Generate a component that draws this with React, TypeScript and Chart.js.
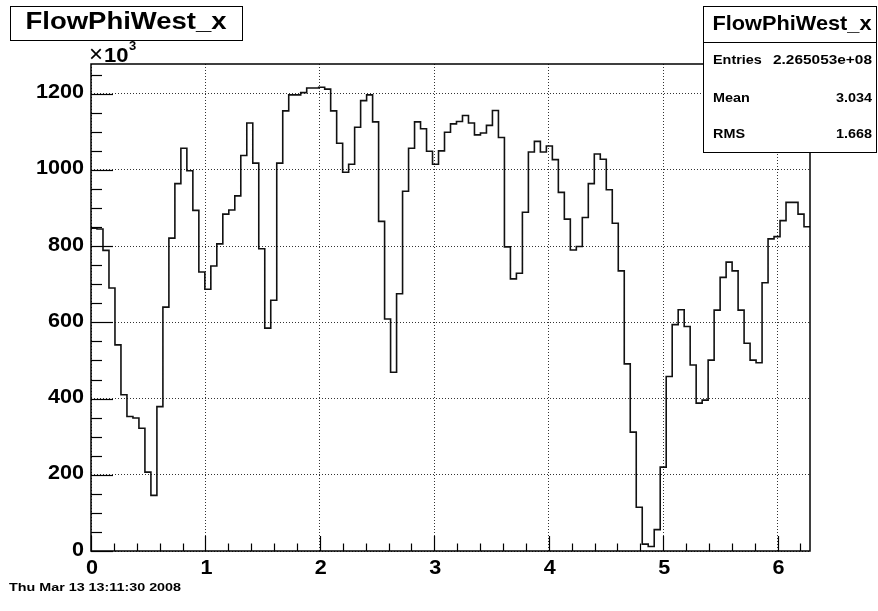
import React, { useEffect, useRef } from 'react';
import { Chart, registerables } from 'chart.js';

Chart.register(...registerables);

// ---------- data ----------
const histTitle = 'FlowPhiWest_x';
const xMin = 0;
const xMax = 2 * Math.PI;
const yMax = 1278; // in units of 10^3
const nBins = 120;

// bin contents (x10^3), 120 bins over [0, 2pi]
const binValues = [
  847, 845, 789, 690, 541, 410, 353, 349, 322, 207, 146, 379, 640, 821, 964, 1057, 998, 894, 732, 687,
  748, 806, 884, 895, 932, 1038, 1123, 1018, 793, 585, 658, 1018, 1155, 1197, 1197, 1203, 1215, 1215, 1217, 1212,
  1155, 1070, 994, 1015, 1112, 1182, 1197, 1126, 865, 609, 469, 675, 944, 1057, 1126, 1108, 1049, 1015, 1050, 1099,
  1121, 1127, 1143, 1123, 1092, 1097, 1117, 1156, 1085, 798, 714, 729, 889, 1047, 1075, 1047, 1063, 1027, 941, 871,
  790, 799, 875, 964, 1042, 1028, 948, 860, 735, 491, 312, 115, 18, 12, 56, 220, 458, 594, 633, 589,
  488, 388, 396, 501, 632, 718, 758, 735, 632, 545, 501, 494, 704, 819, 825, 867, 915, 915, 884, 851,
];

const xTickValues = [0, 1, 2, 3, 4, 5, 6];
const xTickLabels = ['0', '1', '2', '3', '4', '5', '6'];
const yTickValues = [0, 200, 400, 600, 800, 1000, 1200];
const yTickLabels = ['0', '200', '400', '600', '800', '1000', '1200'];

const statLabels = ['Entries', 'Mean', 'RMS'];
const statValues = ['2.265053e+08', '3.034', '1.668'];
const dateText = 'Thu Mar 13 13:11:30 2008';

// ---------- helpers ----------
const FONT = '"Liberation Sans", Arial, Helvetica, sans-serif';

function drawText(
  ctx: CanvasRenderingContext2D,
  s: string,
  x: number,
  y: number,
  o: { size: number; bold?: boolean; align?: 'left' | 'right' | 'center'; sx?: number; width?: number; baseline?: CanvasTextBaseline }
) {
  const bold = o.bold !== false;
  ctx.save();
  ctx.font = `${bold ? 'bold ' : ''}${o.size}px ${FONT}`;
  ctx.textBaseline = o.baseline || 'middle';
  ctx.textAlign = 'left';
  const w = ctx.measureText(s).width;
  const scale = o.width ? o.width / w : o.sx || 1;
  const dw = w * scale;
  const align = o.align || 'left';
  const x0 = align === 'left' ? x : align === 'right' ? x - dw : x - dw / 2;
  ctx.translate(x0, y);
  ctx.scale(scale, 1);
  ctx.fillStyle = '#000';
  ctx.fillText(s, 0, 0);
  ctx.restore();
}

const rootPlugin = {
  id: 'rootDecor',
  afterDraw(chart: any) {
    const ctx: CanvasRenderingContext2D = chart.ctx;
    const { left, top, right, bottom } = chart.chartArea;
    const xs = chart.scales.x;
    const ys = chart.scales.y;
    ctx.save();
    ctx.strokeStyle = '#000';
    ctx.lineWidth = 1.5;
    ctx.setLineDash([]);
    // frame
    ctx.strokeRect(left, top, right - left, bottom - top);

    // y ticks (inside)
    ctx.lineWidth = 1.2;
    for (let k = 0; k * 50 <= yMax; k++) {
      const v = k * 50;
      const py = Math.round(ys.getPixelForValue(v)) + 0.5;
      const len = k % 4 === 0 ? 22 : 11;
      ctx.beginPath();
      ctx.moveTo(left, py);
      ctx.lineTo(left + len, py);
      ctx.stroke();
    }
    // x ticks (inside)
    for (let k = 0; k * 0.2 <= xMax; k++) {
      const v = k * 0.2;
      const px = Math.round(xs.getPixelForValue(v)) + 0.5;
      const len = k % 5 === 0 ? 15 : 7.5;
      ctx.beginPath();
      ctx.moveTo(px, bottom);
      ctx.lineTo(px, bottom - len);
      ctx.stroke();
    }

    // tick labels
    yTickValues.forEach((v, i) => {
      const py = ys.getPixelForValue(v);
      drawText(ctx, yTickLabels[i], left - 7, py - 1, { size: 20, align: 'right', sx: 1.08 });
    });
    xTickValues.forEach((v, i) => {
      const px = xs.getPixelForValue(v);
      drawText(ctx, xTickLabels[i], px + 1, bottom + 17, { size: 20, align: 'center', sx: 1.08 });
    });

    // x10^3
    drawText(ctx, '\u00d7', left - 2, 62, { size: 24, bold: false, baseline: 'alphabetic' });
    drawText(ctx, '10', left + 13, 62, { size: 21, baseline: 'alphabetic', sx: 1.05 });
    drawText(ctx, '3', left + 38, 50, { size: 13, baseline: 'alphabetic' });

    // title box
    ctx.lineWidth = 1;
    ctx.strokeRect(10.5, 6.5, 232, 34);
    drawText(ctx, histTitle, 126, 23, { size: 23, align: 'center', width: 201 });

    // stats box
    ctx.fillStyle = '#fff';
    ctx.fillRect(703.5, 6.5, 173, 146);
    ctx.strokeRect(703.5, 6.5, 173, 146);
    ctx.beginPath();
    ctx.moveTo(703.5, 42.5);
    ctx.lineTo(876.5, 42.5);
    ctx.stroke();
    drawText(ctx, histTitle, 792, 24, { size: 21, align: 'center', width: 159 });
    const rowY = [61, 99, 135];
    statLabels.forEach((s, i) => {
      drawText(ctx, s, 713, rowY[i], { size: 12, sx: 1.2 });
      drawText(ctx, statValues[i], 872, rowY[i], i === 0 ? { size: 12, align: 'right', width: 99 } : { size: 12, align: 'right', sx: 1.2 });
    });

    // date
    drawText(ctx, dateText, 9, 588, { size: 11.5, width: 172 });
    ctx.restore();
  },
};

export default function App() {
  const ref = useRef<HTMLCanvasElement | null>(null);

  useEffect(() => {
    if (!ref.current) return;
    const w = (xMax - xMin) / nBins;
    const pts = binValues.map((v, i) => ({ x: xMin + i * w, y: v }));
    pts.push({ x: xMax, y: binValues[nBins - 1] });

    const chart = new Chart(ref.current, {
      type: 'line',
      data: {
        datasets: [
          {
            label: histTitle,
            data: pts,
            stepped: true,
            borderColor: '#111',
            borderWidth: 1.6,
            pointRadius: 0,
            fill: false,
            tension: 0,
          },
        ],
      },
      options: {
        responsive: false,
        animation: false,
        devicePixelRatio: 1,
        events: [],
        layout: { padding: { left: 91, top: 64, right: 68, bottom: 60 } },
        plugins: { legend: { display: false }, tooltip: { enabled: false }, title: { display: false } },
        scales: {
          x: {
            type: 'linear',
            min: xMin,
            max: xMax,
            afterBuildTicks: (s: any) => {
              s.ticks = xTickValues.map((v) => ({ value: v }));
            },
            ticks: { display: false },
            grid: { drawTicks: false, color: '#333', lineWidth: 1 },
            border: { display: false, dash: [1, 2] },
          },
          y: {
            type: 'linear',
            min: 0,
            max: yMax,
            afterBuildTicks: (s: any) => {
              s.ticks = yTickValues.map((v) => ({ value: v }));
            },
            ticks: { display: false },
            grid: { drawTicks: false, color: '#333', lineWidth: 1 },
            border: { display: false, dash: [1, 2] },
          },
        },
      },
      plugins: [rootPlugin],
    } as any);
    return () => chart.destroy();
  }, []);

  return (
    <div style={{ position: 'absolute', left: 0, top: 0, width: 878, height: 611, background: '#fff' }}>
      <canvas ref={ref} width={878} height={611} style={{ display: 'block' }} />
    </div>
  );
}
